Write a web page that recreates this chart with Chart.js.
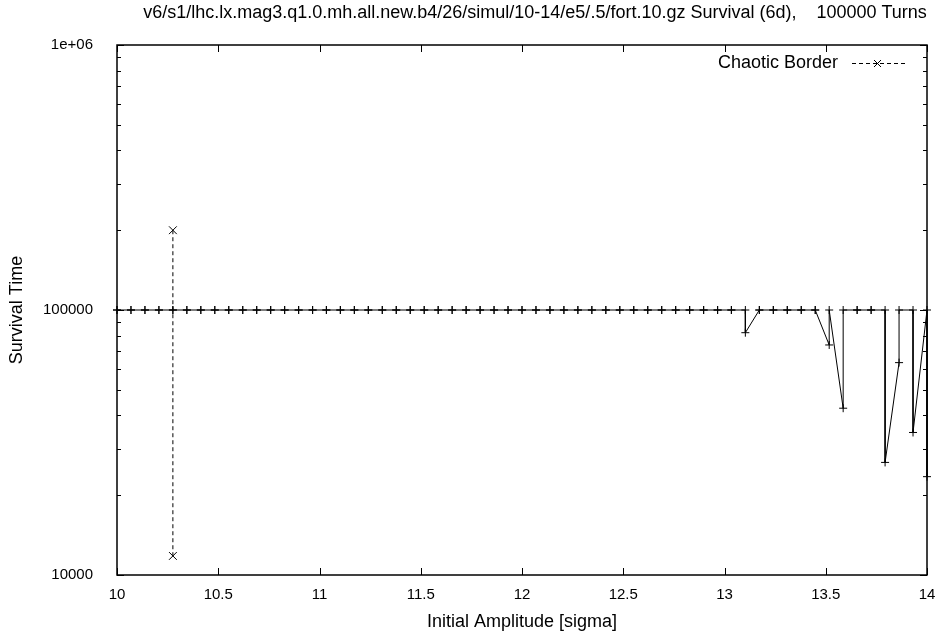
<!DOCTYPE html>
<html>
<head>
<meta charset="utf-8">
<script src="https://cdn.jsdelivr.net/npm/chart.js@4.4.1/dist/chart.umd.min.js"></script>
<style>
  body { margin: 0; background: #fff; }
</style>
</head>
<body>
<canvas id="survChart" width="943" height="637"></canvas>
<script>
// amplitudes (sigma) of the particle pairs
const amplitudes = [
  10.000, 10.069, 10.138, 10.207, 10.276, 10.345, 10.414, 10.483, 10.552, 10.621,
  10.690, 10.759, 10.828, 10.897, 10.966, 11.034, 11.103, 11.172, 11.241, 11.310,
  11.379, 11.448, 11.517, 11.586, 11.655, 11.724, 11.793, 11.862, 11.931, 12.000,
  12.069, 12.138, 12.207, 12.276, 12.345, 12.414, 12.483, 12.552, 12.621, 12.690,
  12.759, 12.828, 12.897, 12.966, 13.034, 13.103, 13.172, 13.241, 13.310, 13.379,
  13.448, 13.517, 13.586, 13.655, 13.724, 13.793, 13.862, 13.931, 14.000
];
// survival time of first and second particle of each pair
const survivalFirst = [
  100000, 100000, 100000, 100000, 100000, 100000, 100000, 100000, 100000, 100000,
  100000, 100000, 100000, 100000, 100000, 100000, 100000, 100000, 100000, 100000,
  100000, 100000, 100000, 100000, 100000, 100000, 100000, 100000, 100000, 100000,
  100000, 100000, 100000, 100000, 100000, 100000, 100000, 100000, 100000, 100000,
  100000, 100000, 100000, 100000, 100000, 100000, 100000, 100000, 100000, 100000,
  100000, 73800, 42600, 100000, 100000, 100000, 63300, 100000, 100000
];
const survivalSecond = [
  100000, 100000, 100000, 100000, 100000, 100000, 100000, 100000, 100000, 100000,
  100000, 100000, 100000, 100000, 100000, 100000, 100000, 100000, 100000, 100000,
  100000, 100000, 100000, 100000, 100000, 100000, 100000, 100000, 100000, 100000,
  100000, 100000, 100000, 100000, 100000, 100000, 100000, 100000, 100000, 100000,
  100000, 100000, 100000, 100000, 100000, 82100, 100000, 100000, 100000, 100000,
  100000, 100000, 100000, 100000, 100000, 26600, 100000, 34500, 23500
];
// chaotic border
const chaoticX = [10.276, 10.276];
const chaoticY = [200000, 11800];

const xTicks = [10, 10.5, 11, 11.5, 12, 12.5, 13, 13.5, 14];
const yTicks = [10000, 100000, 1000000];
const yTickLabels = ['10000', '100000', '1e+06'];
const titleText = 'v6/s1/lhc.lx.mag3.q1.0.mh.all.new.b4/26/simul/10-14/e5/.5/fort.10.gz Survival (6d),    100000 Turns';
const FONT = '"Liberation Sans", Arial, Helvetica, sans-serif';

// line goes through both particles of every pair in turn
var survPoints = [];
for (var i = 0; i < amplitudes.length; i++) {
  survPoints.push({ x: amplitudes[i], y: survivalFirst[i] });
  survPoints.push({ x: amplitudes[i], y: survivalSecond[i] });
}

// frame, inward ticks, title and legend like gnuplot
const gnuplotFrame = {
  id: 'gnuplotFrame',
  afterDatasetsDraw(chart) {
    const c = chart.ctx, a = chart.chartArea;
    const xs = chart.scales.x, ys = chart.scales.y;
    c.save();
    c.strokeStyle = '#000';
    c.lineWidth = 1;
    c.beginPath();
    xTicks.forEach(function (v) {
      var px = Math.round(xs.getPixelForValue(v)) + 0.5;
      c.moveTo(px, a.bottom); c.lineTo(px, a.bottom - 7);
      c.moveTo(px, a.top); c.lineTo(px, a.top + 7);
    });
    yTicks.forEach(function (v) {
      var py = Math.round(ys.getPixelForValue(v)) + 0.5;
      c.moveTo(a.left, py); c.lineTo(a.left + 7, py);
      c.moveTo(a.right, py); c.lineTo(a.right - 7, py);
    });
    for (var d = 0; d < yTicks.length - 1; d++) {
      for (var m = 2; m <= 9; m++) {
        var py = Math.round(ys.getPixelForValue(m * yTicks[d])) + 0.5;
        c.moveTo(a.left, py); c.lineTo(a.left + 4, py);
        c.moveTo(a.right, py); c.lineTo(a.right - 4, py);
      }
    }
    c.stroke();
    c.lineWidth = 1.5;
    c.strokeRect(a.left, a.top, a.right - a.left, a.bottom - a.top);

    // title
    c.fillStyle = '#000';
    c.font = '18px ' + FONT;
    c.textAlign = 'center';
    c.textBaseline = 'middle';
    c.fillText(titleText, 535, 13);

    // legend
    c.textAlign = 'right';
    c.fillText('Chaotic Border', 838, 63);
    c.lineWidth = 1;
    c.setLineDash([4, 3]);
    c.beginPath();
    c.moveTo(852, 63.5); c.lineTo(905, 63.5);
    c.stroke();
    c.setLineDash([]);
    c.beginPath();
    c.moveTo(874, 60); c.lineTo(881, 67);
    c.moveTo(881, 60); c.lineTo(874, 67);
    c.stroke();
    c.restore();
  }
};

new Chart(document.getElementById('survChart'), {
  type: 'line',
  data: {
    datasets: [
      {
        label: 'Survival',
        data: survPoints,
        borderColor: '#000',
        borderWidth: 1,
        pointStyle: 'cross',
        pointRadius: 4,
        pointBorderColor: '#000',
        pointBorderWidth: 1,
        tension: 0,
        clip: false
      },
      {
        label: 'Chaotic Border',
        data: chaoticX.map(function (x, i) { return { x: x, y: chaoticY[i] }; }),
        borderColor: '#000',
        borderWidth: 1,
        borderDash: [4, 3],
        pointStyle: 'crossRot',
        pointRadius: 5.5,
        pointBorderColor: '#000',
        pointBorderWidth: 1,
        clip: false
      }
    ]
  },
  options: {
    responsive: false,
    animation: false,
    layout: { padding: { top: 45, right: 16, left: 0, bottom: 0 } },
    plugins: {
      legend: { display: false },
      tooltip: { enabled: false }
    },
    scales: {
      x: {
        type: 'linear',
        min: 10,
        max: 14,
        afterBuildTicks: function (scale) {
          scale.ticks = xTicks.map(function (v) { return { value: v }; });
        },
        afterFit: function (scale) {
          scale.height = 62;
          scale.paddingLeft = 0;
          scale.paddingRight = 0;
        },
        grid: { display: false, drawTicks: false },
        border: { display: false },
        ticks: {
          color: '#000',
          padding: 11,
          maxRotation: 0,
          font: { family: FONT, size: 15 },
          callback: function (v) { return String(v); }
        },
        title: {
          display: true,
          text: 'Initial Amplitude [sigma]',
          color: '#000',
          font: { family: FONT, size: 18 },
          padding: { top: 0, bottom: 4 }
        }
      },
      y: {
        type: 'logarithmic',
        min: 10000,
        max: 1000000,
        afterBuildTicks: function (scale) {
          scale.ticks = yTicks.map(function (v) { return { value: v }; });
        },
        afterFit: function (scale) { scale.width = 117; },
        grid: { display: false, drawTicks: false },
        border: { display: false },
        ticks: {
          color: '#000',
          padding: 24,
          font: { family: FONT, size: 15 },
          callback: function (v) { return yTickLabels[yTicks.indexOf(v)]; }
        },
        title: {
          display: true,
          text: 'Survival Time',
          color: '#000',
          font: { family: FONT, size: 18 },
          padding: { top: 6, bottom: 0 }
        }
      }
    }
  },
  plugins: [gnuplotFrame]
});
</script>
</body>
</html>
